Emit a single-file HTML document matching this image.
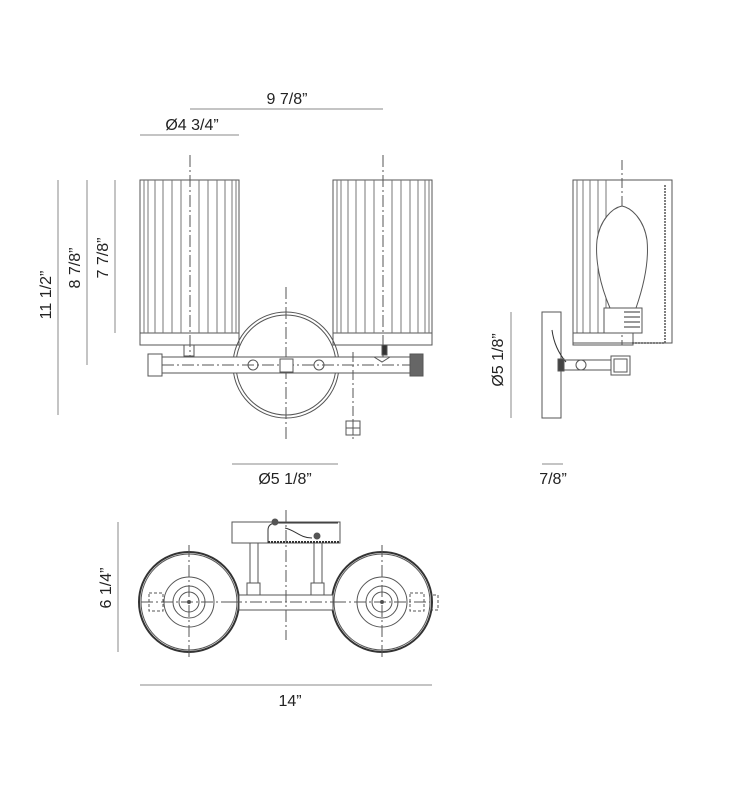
<!DOCTYPE html>
<html><head><meta charset="utf-8"><style>
html,body{margin:0;padding:0;background:#fff;}
svg{display:block;}
text{font-family:"Liberation Sans",sans-serif;fill:#222;}
</style></head><body>
<svg width="730" height="800" viewBox="0 0 730 800" xmlns="http://www.w3.org/2000/svg">
<g stroke="#555" stroke-width="1" fill="none">
<line x1="190" y1="109" x2="383" y2="109" stroke="#888"/>
<line x1="140" y1="135" x2="239" y2="135" stroke="#888"/>
<line x1="58" y1="180" x2="58" y2="415" stroke="#888"/>
<line x1="87" y1="180" x2="87" y2="365" stroke="#888"/>
<line x1="115" y1="180" x2="115" y2="333" stroke="#888"/>
<line x1="232" y1="464" x2="338" y2="464" stroke="#888"/>
<line x1="511" y1="312" x2="511" y2="418" stroke="#888"/>
<line x1="542" y1="464" x2="563" y2="464" stroke="#888"/>
<line x1="118" y1="522" x2="118" y2="652" stroke="#888"/>
<line x1="140" y1="685" x2="432" y2="685" stroke="#888"/>

<g id="shade">
<rect x="140" y="180" width="99" height="153"/>
<rect x="140" y="333" width="99" height="12"/>
<path d="M144 180V333M148 180V333M155 180V333M163 180V333M172 180V333M181 180V333M199 180V333M208 180V333M217 180V333M225 180V333M232 180V333M236 180V333" stroke="#777"/>
</g>
<use href="#shade" x="193"/>
<line x1="190" y1="155" x2="190" y2="372" stroke-dasharray="12,3,2,3"/>
<line x1="383" y1="155" x2="383" y2="372" stroke-dasharray="12,3,2,3"/>
<rect x="184" y="345" width="10" height="11"/>
<circle cx="286" cy="365" r="53"/>
<circle cx="286" cy="365" r="50"/>
<line x1="286" y1="287" x2="286" y2="440" stroke-dasharray="12,3,2,3"/>
<rect x="162" y="357" width="248" height="16" fill="#fff"/>
<rect x="148" y="354" width="14" height="22" fill="#fff"/>
<rect x="410" y="354" width="13" height="22" fill="#666"/>
<line x1="162" y1="365" x2="410" y2="365" stroke-dasharray="12,3,2,3"/>
<circle cx="253" cy="365" r="5"/>
<circle cx="319" cy="365" r="5"/>
<rect x="280" y="359" width="13" height="13" fill="#fff"/>
<rect x="382" y="345" width="5" height="10" fill="#333"/>
<path d="M374 357 L382 362 L390 357"/>
<line x1="353" y1="352" x2="353" y2="440" stroke-dasharray="10,3,2,3"/>
<rect x="346" y="421" width="14" height="14" fill="#fff"/>
<line x1="346" y1="428" x2="360" y2="428"/><line x1="353" y1="421" x2="353" y2="435"/>

<rect x="573" y="180" width="99" height="163"/>
<path d="M577 180V333M583 180V333M590 180V333M598 180V333M606 180V333" stroke="#777"/>
<line x1="622" y1="160" x2="622" y2="345" stroke-dasharray="10,3,2,3"/>
<rect x="573" y="333" width="60" height="12"/>
<path d="M665 185V343H632" stroke="#555" stroke-dasharray="2,1" stroke-width="1.5"/>
<path d="M610 308 C600 285 595 260 597 240 C600 220 612 208 622 206 C632 208 644 220 647 240 C649 260 644 285 636 308 Z" fill="#fff"/>
<rect x="604" y="308" width="38" height="25" fill="#fff"/>
<path d="M624 312h16M624 317h16M624 322h16M624 327h16" stroke="#333"/>
<rect x="542" y="312" width="19" height="106"/>
<path d="M552 330 C554 345 560 355 566 362" stroke="#333"/>
<rect x="561" y="360" width="50" height="10"/>
<circle cx="581" cy="365" r="5"/>
<rect x="611" y="356" width="19" height="19"/>
<rect x="614" y="359" width="13" height="13"/>
<rect x="558" y="359" width="6" height="12" fill="#444"/>

<line x1="140" y1="602" x2="440" y2="602" stroke-dasharray="12,3,2,3"/>
<rect x="148" y="595" width="290" height="15" fill="#fff" stroke-dasharray="3,2"/>
<g id="disc">
<circle cx="189" cy="602" r="50" stroke-width="2" stroke="#333" fill="#fff"/>
<circle cx="189" cy="602" r="48"/>
<circle cx="189" cy="602" r="25"/>
<circle cx="189" cy="602" r="16"/>
<circle cx="189" cy="602" r="10"/>
<circle cx="189" cy="602" r="1.5" fill="#333"/>
<line x1="189" y1="545" x2="189" y2="660" stroke-dasharray="12,3,2,3"/>
<line x1="141" y1="602" x2="237" y2="602" stroke-dasharray="12,3,2,3"/>
</g>
<use href="#disc" x="193"/>
<rect x="149" y="593" width="14" height="18" stroke-dasharray="3,2"/>
<rect x="410" y="593" width="14" height="18" stroke-dasharray="3,2"/>
<rect x="239" y="595" width="94" height="15" fill="#fff"/>
<line x1="230" y1="602" x2="340" y2="602" stroke-dasharray="12,3,2,3"/>
<rect x="250" y="543" width="8" height="40"/><rect x="247" y="583" width="13" height="12"/>
<rect x="314" y="543" width="8" height="40"/><rect x="311" y="583" width="13" height="12"/>
<rect x="232" y="522" width="108" height="21" fill="#fff"/>
<path d="M268 543V530 Q268 524 275 523 H338" stroke="#333"/>
<line x1="268" y1="542" x2="340" y2="542" stroke="#333" stroke-width="2" stroke-dasharray="2,1"/>
<path d="M285 528 C295 530 300 538 312 538" stroke="#333"/>
<circle cx="275" cy="522" r="3" fill="#555"/>
<circle cx="317" cy="536" r="3" fill="#555"/>
<line x1="286" y1="510" x2="286" y2="640" stroke-dasharray="12,3,2,3"/>
</g>
<g font-size="16">
<text x="287" y="104" text-anchor="middle">9 7/8”</text>
<text x="192" y="130" text-anchor="middle">Ø4 3/4”</text>
<text x="285" y="484" text-anchor="middle">Ø5 1/8”</text>
<text x="553" y="484" text-anchor="middle">7/8”</text>
<text x="290" y="706" text-anchor="middle">14”</text>
<text transform="translate(51,295) rotate(-90)" text-anchor="middle">11 1/2”</text>
<text transform="translate(80,268) rotate(-90)" text-anchor="middle">8 7/8”</text>
<text transform="translate(108,258) rotate(-90)" text-anchor="middle">7 7/8”</text>
<text transform="translate(503,360) rotate(-90)" text-anchor="middle">Ø5 1/8”</text>
<text transform="translate(111,588) rotate(-90)" text-anchor="middle">6 1/4”</text>
</g>
</svg>
</body></html>
